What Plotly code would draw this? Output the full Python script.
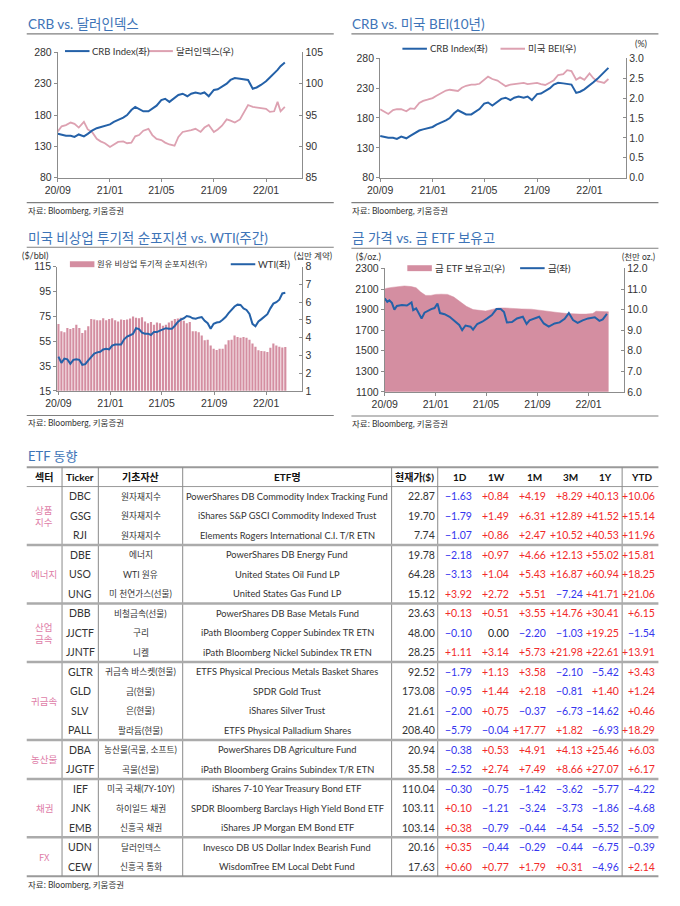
import plotly.graph_objects as go
import pandas as pd

W, H = 680, 906

# ---------------- chart data ----------------
DAILY_DATES = [
    "2020-09-01", "2020-09-10", "2020-09-20", "2020-10-01", "2020-10-10", "2020-10-20",
    "2020-11-01", "2020-11-10", "2020-11-20", "2020-12-01", "2020-12-10", "2020-12-20",
    "2021-01-01", "2021-01-10", "2021-01-20", "2021-02-01", "2021-02-10", "2021-02-20",
    "2021-03-01", "2021-03-10", "2021-03-20", "2021-04-01", "2021-04-10", "2021-04-20",
    "2021-05-01", "2021-05-10", "2021-05-20", "2021-06-01", "2021-06-10", "2021-06-20",
    "2021-07-01", "2021-07-10", "2021-07-20", "2021-08-01", "2021-08-10", "2021-08-20",
    "2021-09-01", "2021-09-10", "2021-09-20", "2021-10-01", "2021-10-10", "2021-10-20",
    "2021-11-01", "2021-11-10", "2021-11-20", "2021-12-01", "2021-12-10", "2021-12-20",
    "2022-01-01", "2022-01-10", "2022-01-20", "2022-01-28", "2022-02-04", "2022-02-14",
]
CRB_INDEX = [
    150, 148, 147, 147, 145, 149, 146, 150, 155, 159, 161, 163,
    165, 169, 172, 176, 180, 188, 193, 190, 186, 186, 190, 195,
    204, 206, 201, 207, 212, 214, 210, 214, 216, 214, 216, 210,
    220, 221, 225, 230, 236, 239, 238, 237, 236, 222, 224, 228,
    234, 240, 246, 252, 258, 264,
]
DOLLAR_INDEX = [
    92.4, 93.2, 93.4, 93.8, 93.6, 93.0, 93.9, 92.7, 92.3, 91.2, 90.8, 90.5,
    89.9, 90.3, 90.7, 90.8, 90.5, 90.6, 91.6, 91.8, 92.5, 92.8, 91.8, 91.2,
    91.0, 90.6, 90.3, 90.1, 91.5, 92.3, 92.4, 92.6, 92.8, 92.3, 93.0, 93.4,
    92.3, 92.7, 93.3, 94.3, 94.1, 93.8, 94.3, 95.3, 96.6, 96.3, 96.2, 96.1,
    96.0, 95.5, 95.6, 97.1, 95.6, 96.3,
]
US_BEI_10Y = [
    1.72, 1.67, 1.60, 1.70, 1.72, 1.72, 1.67, 1.74, 1.73, 1.88, 1.93, 1.96,
    2.00, 2.06, 2.12, 2.19, 2.21, 2.19, 2.18, 2.26, 2.31, 2.34, 2.34, 2.36,
    2.46, 2.54, 2.48, 2.44, 2.37, 2.30, 2.34, 2.35, 2.36, 2.38, 2.35, 2.36,
    2.38, 2.35, 2.33, 2.39, 2.45, 2.58, 2.60, 2.70, 2.68, 2.46, 2.52, 2.46,
    2.62, 2.50, 2.42, 2.40, 2.38, 2.48,
]

# weekly (Tuesday) CFTC non-commercial crude net position (100k contracts) and WTI
COT_NET_POS = [
    4.77, 4.36, 4.31, 4.55, 4.49, 4.55, 4.73, 4.55, 4.27, 4.42,
    4.64, 5.05, 5.02, 4.98, 4.98, 5.10, 4.98, 5.05, 5.10, 4.98,
    4.92, 5.02, 5.00, 5.02, 5.08, 5.19, 5.13, 5.10, 5.15, 4.92,
    4.82, 4.88, 4.73, 4.86, 4.82, 4.67, 4.73, 4.86, 4.95, 5.05,
    5.08, 5.12, 4.95, 4.82, 4.88, 4.36, 4.36, 4.30, 4.12, 3.86,
    3.89, 3.56, 3.38, 3.30, 3.38, 3.38, 3.62, 3.86, 3.89, 4.12,
    4.04, 3.99, 4.04, 3.99, 3.89, 3.67, 3.49, 3.29, 3.25, 3.23,
    3.19, 3.43, 3.67, 3.56, 3.49, 3.45, 3.47,
]
WTI_WEEKLY = [
    42.6, 37.5, 41.0, 40.4, 36.8, 40.0, 40.4, 40.0, 36.0, 36.5,
    39.5, 42.0, 45.0, 46.0, 46.5, 48.4, 49.0, 48.4, 51.5, 52.4,
    52.4, 52.4, 56.5, 58.8, 59.8, 61.0, 65.5, 64.8, 61.9, 61.1,
    61.1, 60.0, 62.5, 62.4, 63.5, 64.5, 65.5, 65.0, 65.0, 67.5,
    70.5, 72.5, 73.5, 75.3, 74.8, 73.5, 73.2, 74.0, 74.5, 71.5,
    69.5, 65.0, 69.0, 70.1, 70.5, 72.3, 74.5, 77.6, 80.0, 83.0,
    84.5, 84.3, 81.5, 80.2, 77.0, 69.0, 67.0, 70.9, 72.8, 74.5,
    76.8, 81.5, 85.3, 86.5, 88.5, 93.5, 94.0,
]
WEEKLY_DATES = pd.date_range("2020-09-01", periods=len(COT_NET_POS), freq="7D")

GOLD_DATES = [
    "2020-09-01", "2020-09-07", "2020-09-12", "2020-09-18", "2020-09-24", "2020-09-30",
    "2020-10-12", "2020-10-24", "2020-11-04", "2020-11-08", "2020-11-15", "2020-11-28",
    "2020-12-05", "2020-12-13", "2020-12-21", "2020-12-29", "2021-01-05", "2021-01-11",
    "2021-01-22", "2021-02-03", "2021-02-15", "2021-02-26", "2021-03-05", "2021-03-13",
    "2021-03-25", "2021-03-31", "2021-04-10", "2021-04-22", "2021-05-04", "2021-05-15",
    "2021-05-26", "2021-06-05", "2021-06-13", "2021-06-20", "2021-07-02", "2021-07-14",
    "2021-07-28", "2021-08-06", "2021-08-13", "2021-08-27", "2021-09-05", "2021-09-16",
    "2021-09-28", "2021-10-12", "2021-10-24", "2021-11-05", "2021-11-15", "2021-11-25",
    "2021-12-06", "2021-12-18", "2021-12-31", "2022-01-16", "2022-01-27", "2022-02-04",
    "2022-02-14",
]
GOLD_PRICE = [
    2010, 1975, 1990, 1965, 1900, 1935, 1945, 1940, 1970, 1895, 1912, 1814,
    1870, 1890, 1905, 1915, 1960, 1866, 1855, 1830, 1790, 1750, 1700, 1745,
    1734, 1705, 1760, 1782, 1814, 1846, 1905, 1905, 1876, 1775, 1778, 1814,
    1830, 1760, 1795, 1820, 1830, 1765, 1735, 1765, 1775, 1810, 1866, 1798,
    1770, 1795, 1814, 1825, 1790, 1805, 1858,
]
GOLD_ETF_DATES = [
    "2020-09-01", "2020-09-06", "2020-09-18", "2020-10-03", "2020-10-18", "2020-11-03",
    "2020-11-15", "2020-11-26", "2020-12-08", "2020-12-20", "2021-01-01", "2021-01-14",
    "2021-01-29", "2021-02-13", "2021-02-28", "2021-03-15", "2021-03-31", "2021-04-15",
    "2021-04-30", "2021-05-16", "2021-05-31", "2021-06-15", "2021-07-01", "2021-07-25",
    "2021-08-17", "2021-09-09", "2021-09-25", "2021-10-18", "2021-11-10", "2021-11-25",
    "2021-12-10", "2021-12-26", "2022-01-11", "2022-01-19", "2022-02-04", "2022-02-18",
]
GOLD_ETF_HOLDINGS = [
    11.00, 11.04, 11.08, 11.13, 11.15, 11.12, 11.06, 10.85, 10.69, 10.69, 10.74, 10.75,
    10.74, 10.61, 10.37, 10.16, 10.00, 9.95, 9.93, 10.01, 10.08, 10.08, 10.05, 10.03,
    10.02, 9.95, 9.92, 9.86, 9.81, 9.78, 9.78, 9.78, 9.81, 9.92, 9.92, 9.89,
]

# ---------------- table data ----------------
SECTOR_NAMES = ["상품<br>지수", "에너지", "산업<br>금속", "귀금속", "농산물", "채권", "FX"]
SECTOR_SIZES = [3, 3, 3, 4, 2, 3, 2]
TICKERS = ["DBC", "GSG", "RJI", "DBE", "USO", "UNG", "DBB", "JJCTF", "JJNTF", "GLTR",
           "GLD", "SLV", "PALL", "DBA", "JJGTF", "IEF", "JNK", "EMB", "UDN", "CEW"]
UNDERLYING = ["원자재지수", "원자재지수", "원자재지수", "에너지", "WTI 원유", "미 천연가스(선물)",
              "비철금속(선물)", "구리", "니켈", "귀금속 바스켓(현물)", "금(현물)", "은(현물)",
              "팔라듐(현물)", "농산물(곡물, 소프트)", "곡물(선물)", "미국 국채(7Y-10Y)",
              "하이일드 채권", "신흥국 채권", "달러인덱스", "신흥국 통화"]
ETF_NAMES = [
    "PowerShares DB Commodity Index Tracking Fund",
    "iShares S&P GSCI Commodity Indexed Trust",
    "Elements Rogers International C.I. T/R ETN",
    "PowerShares DB Energy Fund",
    "United States Oil Fund LP",
    "United States Gas Fund LP",
    "PowerShares DB Base Metals Fund",
    "iPath Bloomberg Copper Subindex TR ETN",
    "iPath Bloomberg Nickel Subindex TR ETN",
    "ETFS Physical Precious Metals Basket Shares",
    "SPDR Gold Trust",
    "iShares Silver Trust",
    "ETFS Physical Palladium Shares",
    "PowerShares DB Agriculture Fund",
    "iPath Bloomberg Grains Subindex T/R ETN",
    "iShares 7-10 Year Treasury Bond ETF",
    "SPDR Bloomberg Barclays High Yield Bond ETF",
    "iShares JP Morgan EM Bond ETF",
    "Invesco DB US Dollar Index Bearish Fund",
    "WisdomTree EM Local Debt Fund",
]
PRICE = [22.87, 19.70, 7.74, 19.78, 64.28, 15.12, 23.63, 48.00, 28.25, 92.52,
         173.08, 21.61, 208.40, 20.94, 35.58, 110.04, 103.11, 103.14, 20.16, 17.63]
CHG_1D = [-1.63, -1.79, -1.07, -2.18, -3.13, 3.92, 0.13, -0.10, 1.11, -1.79,
          -0.95, -2.00, -5.79, -0.38, -2.52, -0.30, 0.10, 0.38, 0.35, 0.60]
CHG_1W = [0.84, 1.49, 0.86, 0.97, 1.04, 2.72, 0.51, 0.00, 3.14, 1.13,
          1.44, 0.75, -0.04, 0.53, 2.74, -0.75, -1.21, -0.79, -0.44, 0.77]
CHG_1M = [4.19, 6.31, 2.47, 4.66, 5.43, 5.51, 3.55, -2.20, 5.73, 3.58,
          2.18, -0.37, 17.77, 4.91, 7.49, -1.42, -3.24, -0.44, -0.29, 1.79]
CHG_3M = [8.29, 12.89, 10.52, 12.13, 16.87, -7.24, 14.76, -1.03, 21.98, -2.10,
          -0.81, -6.73, 1.82, 4.13, 8.66, -3.62, -3.73, -4.54, -0.44, 0.31]
CHG_1Y = [40.13, 41.52, 40.53, 55.02, 60.94, 41.71, 30.41, 19.25, 22.61, -5.42,
          1.40, -14.62, -6.93, 25.46, 27.07, -5.77, -1.86, -5.52, -6.75, -4.96]
CHG_YTD = [10.06, 15.14, 11.96, 15.81, 18.25, 21.06, 6.15, -1.54, 13.91, 3.43,
           1.24, 0.46, 18.29, 6.03, 6.17, -4.22, -4.68, -5.09, -0.39, 2.14]
TABLE_HEADERS = ["섹터", "Ticker", "기초자산", "ETF명", "현재가($)", "1D", "1W", "1M", "3M", "1Y", "YTD"]

# ---------------- styles ----------------
BLUE = "#2461A8"
PINK_LINE = "#DDA1B1"
PINK_FILL = "#D48EA1"
TITLE_BLUE = "#3E74B7"
AX = "#8C8C8C"
TXT = "#333333"
RED = "#F22A2A"
NEG_BLUE = "#3535EE"
SECTOR_PINK = "#DE7DA8"
FONT_KR = "Noto Sans CJK KR"
FONT_NAR = "Lato, Noto Sans CJK KR, sans-serif"
FONT_TICK = "Liberation Sans, Noto Sans CJK KR, sans-serif"
TICKFONT = dict(family=FONT_TICK, size=10.5, color=TXT)
X_START, X_END = "2020-09-01", "2022-03-27"


def fx(x):
    return x / W


def fy(y):
    return 1 - y / H


annotations = []
shapes = []


def text(x, y, s, size=10, color=TXT, family=FONT_NAR, anchor="left", bold=False):
    annotations.append(dict(
        x=fx(x), y=fy(y), xref="paper", yref="paper", text=s, showarrow=False,
        xanchor=anchor, yanchor="middle", borderpad=0,
        font=dict(size=size, color=color, family=family, weight="bold" if bold else "normal")))


def hline(x0, x1, y, color=AX, width=1):
    shapes.append(dict(type="line", xref="paper", yref="paper", x0=fx(x0), x1=fx(x1),
                       y0=fy(y), y1=fy(y), line=dict(color=color, width=width)))


def vline(x, y0, y1, color=AX, width=1):
    shapes.append(dict(type="line", xref="paper", yref="paper", x0=fx(x), x1=fx(x),
                       y0=fy(y0), y1=fy(y1), line=dict(color=color, width=width)))


def rect(x0, x1, y0, y1, color):
    shapes.append(dict(type="rect", xref="paper", yref="paper", x0=fx(x0), x1=fx(x1),
                       y0=fy(y1), y1=fy(y0), line=dict(width=0), fillcolor=color))


def x_axis(x0, x1, anchor, start=X_START):
    return dict(domain=[fx(x0), fx(x1)], anchor=anchor, type="date", range=[start, X_END],
                tickformat="%y/%m", dtick="M4", tick0="2020-09-01", ticks="outside",
                ticklen=3, tickcolor=AX, showline=True, linecolor=AX, linewidth=1,
                showgrid=False, zeroline=False, tickfont=TICKFONT)


def y_axis(rng, dtick, side, anchor, y0=None, y1=None, overlaying=None, fmt=None):
    d = dict(range=rng, dtick=dtick, tick0=rng[0], side=side, anchor=anchor, showline=True,
             linecolor=AX, linewidth=1, showgrid=False, zeroline=False, tickfont=TICKFONT,
             ticks="inside" if side == "right" else "outside", ticklen=3, tickcolor=AX)
    if overlaying:
        d["overlaying"] = overlaying
    else:
        d["domain"] = [fy(y1), fy(y0)]
    if fmt:
        d["tickformat"] = fmt
    return d


fig = go.Figure()

# ---- chart 1: CRB vs dollar ----
fig.add_trace(go.Scatter(x=DAILY_DATES, y=DOLLAR_INDEX, mode="lines", xaxis="x", yaxis="y",
                         line=dict(color=PINK_LINE, width=1.8)))
fig.add_trace(go.Scatter(x=DAILY_DATES, y=CRB_INDEX, mode="lines", xaxis="x", yaxis="y2",
                         line=dict(color=BLUE, width=2)))
# ---- chart 2: CRB vs BEI ----
fig.add_trace(go.Scatter(x=DAILY_DATES, y=US_BEI_10Y, mode="lines", xaxis="x2", yaxis="y3",
                         line=dict(color=PINK_LINE, width=1.8)))
fig.add_trace(go.Scatter(x=DAILY_DATES, y=CRB_INDEX, mode="lines", xaxis="x2", yaxis="y4",
                         line=dict(color=BLUE, width=2)))
# ---- chart 3: net position vs WTI ----
fig.add_trace(go.Bar(x=WEEKLY_DATES, y=COT_NET_POS, xaxis="x3", yaxis="y5",
                     marker=dict(color=PINK_FILL, line=dict(width=0))))
fig.add_trace(go.Scatter(x=WEEKLY_DATES, y=WTI_WEEKLY, mode="lines", xaxis="x3", yaxis="y6",
                         line=dict(color=BLUE, width=2)))
# ---- chart 4: gold vs ETF holdings ----
fig.add_trace(go.Scatter(x=GOLD_ETF_DATES, y=GOLD_ETF_HOLDINGS, mode="lines", fill="tozeroy",
                         xaxis="x4", yaxis="y7", line=dict(color=PINK_FILL, width=0.5),
                         fillcolor=PINK_FILL))
fig.add_trace(go.Scatter(x=GOLD_DATES, y=GOLD_PRICE, mode="lines", xaxis="x4", yaxis="y8",
                         line=dict(color=BLUE, width=2)))

layout = dict(
    width=W, height=H, margin=dict(l=0, r=0, t=0, b=0), showlegend=False,
    paper_bgcolor="white", plot_bgcolor="rgba(0,0,0,0)", bargap=0.28,
    xaxis=x_axis(45.7, 295, "y"),
    yaxis=y_axis([85, 105], 5, "right", "x", 47, 174),
    yaxis2=y_axis([80, 280], 50, "left", "x", overlaying="y"),
    xaxis2=x_axis(374.3, 625, "y3"),
    yaxis3=y_axis([0, 3], 0.5, "right", "x2", 53, 174, fmt=".1f"),
    yaxis4=y_axis([80, 280], 50, "left", "x2", overlaying="y3"),
    xaxis3=x_axis(45, 295, "y5", start="2020-08-29"),
    yaxis5=y_axis([1, 8], 1, "right", "x3", 264.3, 390),
    yaxis6=y_axis([15, 115], 20, "left", "x3", overlaying="y5"),
    xaxis4=x_axis(379, 623, "y7"),
    yaxis7=y_axis([6, 12], 1, "right", "x4", 266, 391, fmt=".1f"),
    yaxis8=y_axis([1100, 2300], 200, "left", "x4", overlaying="y7"),
)

# ---- titles, rules, sources ----
for (tx, ty, title, uy, sy) in [
    (14, 18, "CRB vs. 달러인덱스", 28.3, 199.3),
    (345, 18, "CRB vs. 미국 BEI(10년)", 28.3, 199.3),
    (14, 235, "미국 비상업 투기적 순포지션 vs. WTI(주간)", 244.5, 415),
    (345, 235, "금 가격 vs. 금 ETF 보유고", 245.5, 415.5),
]:
    text(tx, ty, title, size=13.5, color=TITLE_BLUE, family=FONT_NAR)
    hline(tx, tx + 313, uy, color="#7F7F7F", width=1.2)
    hline(tx, tx + 313, sy, color="#7F7F7F", width=1.2)
    text(tx, sy + 8, "자료: Bloomberg, 키움증권", size=8.5, color=TXT)

# unit labels
text(640, 38, "(%)", size=9, anchor="center")
text(22, 253, "($/bbl)", size=9, anchor="center")
text(306, 253, "(십만 계약)", size=8.5, anchor="center")
text(362, 254, "($/oz.)", size=9, anchor="center")
text(638, 254, "(천만 oz.)", size=8.5, anchor="center")


# manual legends
def leg_line(x0, y, color, label, size=9.5):
    hline(x0, x0 + 25, y, color=color, width=2)
    text(x0 + 27, y, label, size=size)


def leg_box(x0, y, color, label, size=9.5):
    rect(x0, x0 + 25, y - 3, y + 3, color)
    text(x0 + 27, y, label, size=size)


leg_line(53, 45.7, BLUE, "CRB Index(좌)")
leg_line(138, 45.7, PINK_LINE, "달러인덱스(우)")
leg_line(397, 43.3, BLUE, "CRB Index(좌)")
leg_line(497, 43.3, PINK_LINE, "미국 BEI(우)")
leg_box(58, 261.7, PINK_FILL, "원유 비상업 투기적 순포지션(우)", size=8.3)
leg_line(222, 261.7, BLUE, "WTI(좌)")
leg_box(402, 265.7, PINK_FILL, "금 ETF 보유고(우)")
leg_line(517, 265.7, BLUE, "금(좌)")

# ---------------- table ----------------
text(14, 456, "ETF 동향", size=13, color=TITLE_BLUE, family=FONT_NAR)
T_LEFT, T_RIGHT = 14, 658
T_TOP, HEAD_BOT, ROW_H = 467.5, 487, 19.75
T_BOT = HEAD_BOT + ROW_H * len(TICKERS)
V_LINES = [50, 87, 173, 386, 433, 621]
HEAD_X = [32, 68.5, 130, 279.5, 409.5, 456, 493, 532, 568, 604, 641]
NUM_RIGHT = [431, 469, 507, 544, 582, 619, 656]

hline(T_LEFT, T_RIGHT, T_TOP, color="#9A9A9A", width=2)
hline(T_LEFT, T_RIGHT, HEAD_BOT, color="#9A9A9A", width=1)
hline(T_LEFT, T_RIGHT, T_BOT, color="#9A9A9A", width=2)
for vx in V_LINES:
    vline(vx, T_TOP, T_BOT, color="#8A8A8A", width=1)

hy = (T_TOP + HEAD_BOT) / 2
for hx, h in zip(HEAD_X, TABLE_HEADERS):
    text(hx, hy, h, size=10, color="#111111", anchor="center", bold=True)

row0 = 0
for name, n in zip(SECTOR_NAMES, SECTOR_SIZES):
    ymid = HEAD_BOT + ROW_H * (row0 + n / 2)
    text(32, ymid, name, size=9.5, color=SECTOR_PINK, family=FONT_KR, anchor="center")
    row0 += n
    if row0 < len(TICKERS):
        hline(T_LEFT, T_RIGHT, HEAD_BOT + ROW_H * row0, color="#ABABAB", width=2.5)


def fmt_chg(v):
    if v > 0:
        return "+%.2f" % v, RED
    if v < 0:
        return "\u2212%.2f" % abs(v), NEG_BLUE
    return "0.00", "#222222"


for i in range(len(TICKERS)):
    y = HEAD_BOT + ROW_H * (i + 0.5)
    text(68.5, y, TICKERS[i], size=10.5, anchor="center")
    text(130, y, UNDERLYING[i], size=8.7, anchor="center")
    text(279.5, y, ETF_NAMES[i], size=9.3, anchor="center")
    text(NUM_RIGHT[0], y, "%.2f" % PRICE[i], size=10.5, anchor="right")
    for j, series in enumerate([CHG_1D, CHG_1W, CHG_1M, CHG_3M, CHG_1Y, CHG_YTD]):
        s, c = fmt_chg(series[i])
        text(NUM_RIGHT[j + 1], y, s, size=10.5, color=c, anchor="right")

text(14, T_BOT + 9, "자료: Bloomberg, 키움증권", size=8.5, color=TXT)

layout["annotations"] = annotations
layout["shapes"] = shapes
fig.update_layout(**layout)
fig.write_html("out.html", config={"displayModeBar": False},
               post_script="document.body.style.margin='0';document.body.style.overflow='hidden';")
